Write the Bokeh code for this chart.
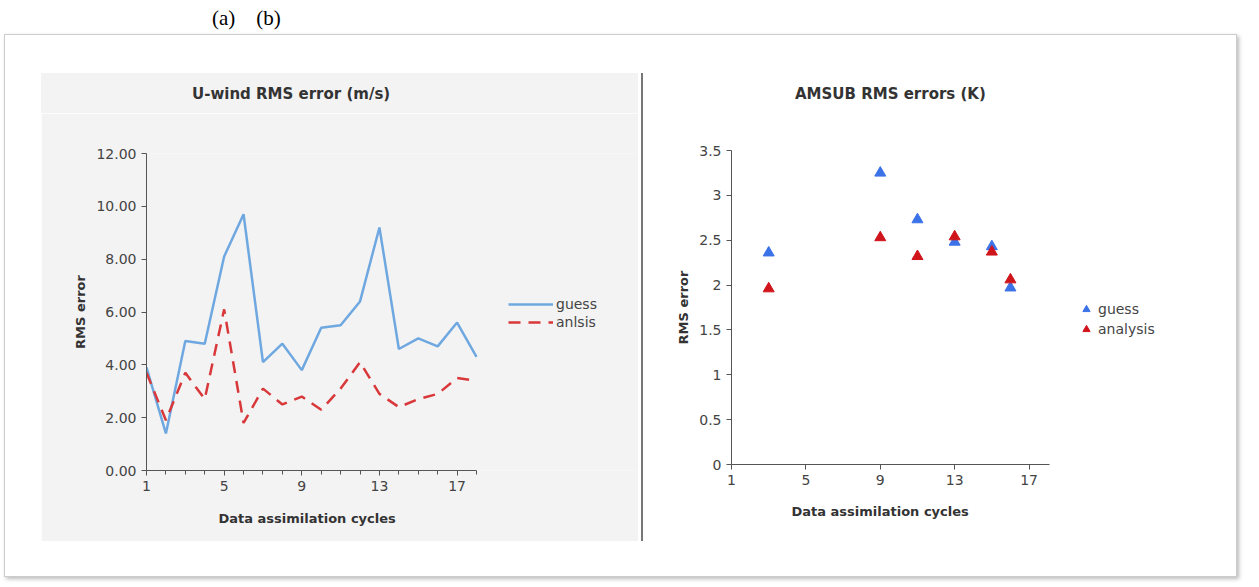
from bokeh.plotting import figure
from bokeh.layouts import row, column
from bokeh.models import Div, FixedTicker, NumeralTickFormatter, Legend, LegendItem, Range1d, Title
from bokeh.embed import file_html
from bokeh.resources import INLINE

cycles = list(range(1, 19))
uwind_guess = [3.9, 1.4, 4.9, 4.8, 8.1, 9.7, 4.1, 4.8, 3.8, 5.4, 5.5, 6.4, 9.2, 4.6, 5.0, 4.7, 5.6, 4.3]
uwind_anal = [3.7, 1.9, 3.7, 2.7, 6.1, 1.8, 3.1, 2.5, 2.8, 2.3, 3.1, 4.1, 2.9, 2.4, 2.7, 2.9, 3.5, 3.4]
amsub_x = [3, 9, 11, 13, 15, 16]
amsub_guess = [2.36, 3.25, 2.73, 2.48, 2.43, 1.97]
amsub_anal = [1.96, 2.53, 2.32, 2.54, 2.37, 2.06]
x_ticks = [1, 5, 9, 13, 17]

FONT = "DejaVu Sans"

def style(p, bg, xlabel_offset, xlabel_standoff):
    p.background_fill_color = bg
    p.border_fill_color = bg
    p.outline_line_color = None
    p.xgrid.visible = False
    p.ygrid.visible = False
    for ax in (p.xaxis[0], p.yaxis[0]):
        ax.axis_line_color = "#555555"
        ax.major_tick_line_color = "#555555"
        ax.minor_tick_line_color = "#555555"
        ax.major_label_text_font = FONT
        ax.major_label_text_font_size = "14px"
        ax.major_label_text_color = "#444444"
        ax.axis_label_text_font = FONT
        ax.axis_label_text_font_size = "13px"
        ax.axis_label_text_font_style = "bold"
        ax.axis_label_text_color = "#333333"
        ax.major_tick_in = 0
        ax.major_tick_out = 5
        ax.minor_tick_in = 0
        ax.minor_tick_out = 4
    p.yaxis.axis_label = "RMS error"
    p.add_layout(Title(text="Data assimilation cycles", align="left", offset=xlabel_offset,
                       text_font=FONT, text_font_size="13px", text_font_style="bold",
                       text_color="#333333", standoff=xlabel_standoff), "below")

def mk_legend(items, gw, gh, loc):
    return Legend(items=items, location=loc, background_fill_alpha=0, border_line_color=None,
                  label_text_font=FONT, label_text_font_size="14px", label_text_color="#444444",
                  glyph_width=gw, glyph_height=gh, spacing=2, padding=0, margin=0, label_standoff=3)

def title_div(text, left, bg, width):
    return Div(text=text, width=width, height=40, margin=0,
               styles={"font-family": FONT, "font-size": "15px", "font-weight": "bold", "color": "#333333",
                       "padding-top": "11px", "padding-left": f"{left}px", "background-color": bg,
                       "box-sizing": "border-box"})

# left: frame spans 1..18 over 330px, extended to hold the legend
p1 = figure(frame_width=492, frame_height=317, output_backend="svg", toolbar_location=None,
            x_range=Range1d(1, 1 + 17 * 492 / 330), y_range=Range1d(0, 12),
            min_border_left=105, min_border_right=0, min_border_top=40, min_border_bottom=71)
style(p1, "#f3f3f3", 72, 31)
p1.xaxis.bounds = (1, 18)
p1.xaxis.ticker = FixedTicker(ticks=x_ticks, minor_ticks=cycles)
p1.yaxis.ticker = FixedTicker(ticks=[0, 2, 4, 6, 8, 10, 12], minor_ticks=[])
p1.yaxis.formatter = NumeralTickFormatter(format="0.00")
r1 = p1.line(cycles, uwind_guess, line_color="#6fa8e0", line_width=2.5)
r2 = p1.line(cycles, uwind_anal, line_color="#d9383a", line_width=2.5, line_dash="12 8")
p1.add_layout(mk_legend([LegendItem(label="guess", renderers=[r1]),
                         LegendItem(label="anlsis", renderers=[r2])], 45, 16, (362, 140)), "center")

# right: frame spans 1..18.1 over 318px, extended to hold the legend
p2 = figure(frame_width=505, frame_height=314, output_backend="svg", toolbar_location=None,
            x_range=Range1d(1, 1 + 17.1 * 505 / 318), y_range=Range1d(0, 3.5),
            min_border_left=80, min_border_right=0, min_border_top=37, min_border_bottom=77)
style(p2, "white", 60, 28)
p2.xaxis.bounds = (1, 18.1)
p2.xaxis.ticker = FixedTicker(ticks=x_ticks, minor_ticks=[])
p2.yaxis.ticker = FixedTicker(ticks=[0, 0.5, 1, 1.5, 2, 2.5, 3, 3.5], minor_ticks=[])
g = p2.scatter(amsub_x, amsub_guess, marker="triangle", size=11, fill_color="#3b72e8", line_color="#3b72e8")
a = p2.scatter(amsub_x, amsub_anal, marker="triangle", size=11, fill_color="#d0141c", line_color="#d0141c")
p2.add_layout(mk_legend([LegendItem(label="guess", renderers=[g]),
                         LegendItem(label="analysis", renderers=[a])], 18, 18, (346, 126)), "center")

left = column(title_div("U-wind RMS error (m/s)", 151, "#f3f3f3", 597), p1, margin=(38, 0, 35, 36), spacing=0)
sep = Div(text="", width=2, height=468, margin=(38, 4, 35, 3), styles={"background-color": "#777777"})
right = column(title_div("AMSUB RMS errors (K)", 144, "white", 585), p2, margin=(38, 0, 35, 4), spacing=0)

frame = row(left, sep, right, margin=(0, 0, 0, 4),
            styles={"border": "1px solid #cccccc", "box-shadow": "2px 2px 4px #bbbbbb", "background-color": "white"})
hdr = Div(text="(a)&nbsp;&nbsp;&nbsp;&nbsp;(b)", width=400, height=34, margin=(0, 0, 0, 212),
          styles={"font-family": "Liberation Serif", "font-size": "21px", "color": "black", "padding-top": "3px"})
page = column(hdr, frame)

open("out.html", "w").write(file_html(page, INLINE))
